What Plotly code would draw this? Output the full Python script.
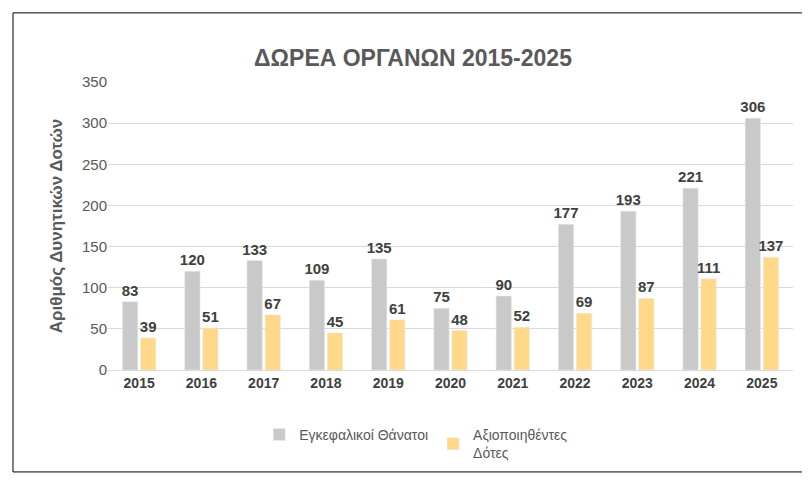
import plotly.graph_objects as go

years = ["2015","2016","2017","2018","2019","2020","2021","2022","2023","2024","2025"]
deaths = [83,120,133,109,135,75,90,177,193,221,306]
donors = [39,51,67,45,61,48,52,69,87,111,137]

font = dict(family="Liberation Sans, Arial", color="#404040")
tf = dict(size=15, color="#404040", family="Liberation Sans, Arial")
fig = go.Figure()
fig.add_bar(x=years, y=deaths, name="Εγκεφαλικοί Θάνατοι", marker_color="#c9c9c9",
            text=deaths, texttemplate="<b>%{text}</b>", textposition="outside", cliponaxis=False,
            constraintext="none", textfont=tf)
fig.add_bar(x=years, y=donors, name="Αξιοποιηθέντες<br>Δότες", marker_color="#ffd88a",
            text=donors, texttemplate="<b>%{text}</b>", textposition="outside", cliponaxis=False,
            constraintext="none", textfont=tf)

fig.update_layout(
    width=810, height=490, paper_bgcolor="white", plot_bgcolor="white",
    margin=dict(l=100, r=25, t=74, b=128, autoexpand=False),
    barmode="group", bargap=0.42, bargroupgap=0.15,
    title=dict(text="<b>ΔΩΡΕΑ ΟΡΓΑΝΩΝ 2015-2025</b>", x=0.5, xanchor="center", y=0.915,
               font=dict(size=23, color="#595959", family="Liberation Sans, Arial")),
    font=font,
    legend=dict(orientation="h", x=0.45, xanchor="center", y=-0.17, yanchor="top",
                font=dict(size=14, color="#595959"), itemwidth=30),
    yaxis=dict(range=[0,350], dtick=50, gridcolor="#d9d9d9", zeroline=False,
               tickfont=dict(size=15, color="#595959"),
               title=dict(text="<b>Αριθμός Δυνητικών Δοτών</b>", font=dict(size=17, color="#595959"))),
    xaxis=dict(tickfont=dict(size=14, color="#404040"), showline=True, linecolor="#d9d9d9",
               tickprefix="<b>", ticksuffix="</b>"),
    shapes=[dict(type="rect", xref="paper", yref="paper", x0=-0.1387, x1=1.0219, y0=-0.354, y1=1.24,
                 line=dict(color="black", width=1))],
)
fig.write_html("out.html")
